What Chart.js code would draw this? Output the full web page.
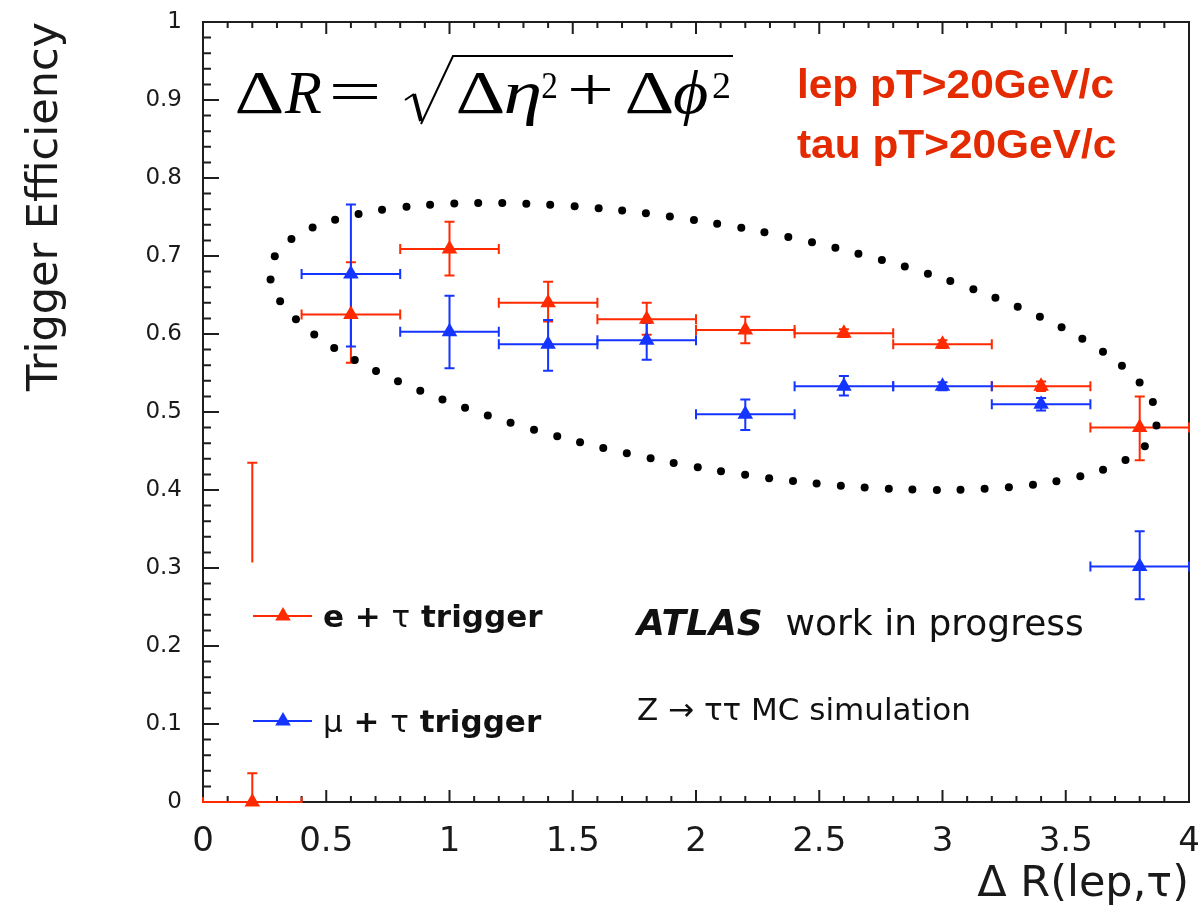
<!DOCTYPE html>
<html>
<head>
<meta charset="utf-8">
<title>Trigger efficiency vs dR</title>
<script src="https://cdn.jsdelivr.net/npm/chart.js@4.4.1/dist/chart.umd.min.js"></script>
<style>
  html, body { margin: 0; padding: 0; background: #fff; }
  canvas { display: block; }
</style>
</head>
<body>
<canvas id="effChart" width="1201" height="913"></canvas>
<script>
// dR(lep,tau) bins: centre and half width
const binCenters = [0.2, 0.6, 1.0, 1.4, 1.8, 2.2, 2.6, 3.0, 3.4, 3.8];
const binHalfWidth = 0.2;

// e + tau trigger
const eTauEff     = [0.000, 0.625, 0.709, 0.640, 0.619, 0.605, 0.601, 0.587, 0.533, 0.480];
const eTauErrUp   = [0.037, 0.067, 0.035, 0.027, 0.021, 0.017, 0.005, 0.005, 0.006, 0.040];
const eTauErrDown = [0.000, 0.062, 0.034, 0.024, 0.020, 0.017, 0.005, 0.005, 0.006, 0.042];
// lone upper error segment left over in the first e + tau bin
const eTauStrayBar = [0.2, 0.307, 0.435]; // x, low, high

// mu + tau trigger (first bin empty)
const muTauBins    = [0.6, 1.0, 1.4, 1.8, 2.2, 2.6, 3.0, 3.4, 3.8];
const muTauEff     = [0.677, 0.603, 0.587, 0.592, 0.497, 0.533, 0.533, 0.510, 0.302];
const muTauErrUp   = [0.089, 0.046, 0.031, 0.022, 0.019, 0.013, 0.005, 0.008, 0.045];
const muTauErrDown = [0.093, 0.047, 0.034, 0.025, 0.020, 0.012, 0.005, 0.008, 0.042];

const xTicks = [0, 0.5, 1, 1.5, 2, 2.5, 3, 3.5, 4];
const yTicks = [0, 0.1, 0.2, 0.3, 0.4, 0.5, 0.6, 0.7, 0.8, 0.9, 1];

// dotted ring around the plateau, in axis units: centre, two conjugate half axes
const ringCenter = [2.071, 0.584];
const ringAxisA = [1.797, -0.1012];
const ringAxisB = [-0.0864, -0.1536];

const RED = '#ff2a00';
const BLUE = '#1434ff';
const SANS = '"DejaVu Sans", sans-serif';
const SERIF = '"Liberation Serif", "DejaVu Serif", serif';

function fmtTick(v) {
  return String(Math.round(v * 10) / 10);
}

function drawFrame(chart) {
  const { ctx, chartArea: a, scales: { x, y } } = chart;
  ctx.save();
  ctx.strokeStyle = '#1e1e1e';
  ctx.lineWidth = 2;
  ctx.strokeRect(a.left, a.top, a.right - a.left, a.bottom - a.top);
  ctx.beginPath();
  // left axis ticks: major every 0.1, minor every 0.02
  for (let i = 0; i <= 50; i++) {
    const py = y.getPixelForValue(i * 0.02);
    const len = i % 5 === 0 ? 16 : 8;
    ctx.moveTo(a.left, py);
    ctx.lineTo(a.left + len, py);
  }
  // bottom and top ticks: major every 0.5, minor every 0.1
  for (let i = 0; i <= 40; i++) {
    const px = x.getPixelForValue(i * 0.1);
    const len = i % 5 === 0 ? 12 : 6;
    ctx.moveTo(px, a.bottom);
    ctx.lineTo(px, a.bottom - len);
    ctx.moveTo(px, a.top);
    ctx.lineTo(px, a.top + len);
  }
  ctx.stroke();
  ctx.restore();
}

function errorBar(ctx, x, y, cx, cy, hw, up, down, color, cap) {
  const px0 = x.getPixelForValue(cx - hw);
  const px1 = x.getPixelForValue(cx + hw);
  const pc = x.getPixelForValue(cx);
  const py = y.getPixelForValue(cy);
  const pTop = y.getPixelForValue(cy + up);
  const pBot = y.getPixelForValue(cy - down);
  ctx.strokeStyle = color;
  ctx.beginPath();
  ctx.moveTo(px0, py); ctx.lineTo(px1, py);
  ctx.moveTo(px0, py - cap); ctx.lineTo(px0, py + cap);
  ctx.moveTo(px1, py - cap); ctx.lineTo(px1, py + cap);
  if (up > 0) {
    ctx.moveTo(pc, py); ctx.lineTo(pc, pTop);
    ctx.moveTo(pc - cap, pTop); ctx.lineTo(pc + cap, pTop);
  }
  if (down > 0) {
    ctx.moveTo(pc, py); ctx.lineTo(pc, pBot);
    ctx.moveTo(pc - cap, pBot); ctx.lineTo(pc + cap, pBot);
  }
  ctx.stroke();
}

function drawErrors(chart) {
  const { ctx, chartArea: a, scales: { x, y } } = chart;
  ctx.save();
  ctx.beginPath();
  ctx.rect(a.left - 1, a.top - 1, a.right - a.left + 2, a.bottom - a.top + 2);
  ctx.clip();
  ctx.lineWidth = 2;
  binCenters.forEach((c, i) => {
    errorBar(ctx, x, y, c, eTauEff[i], binHalfWidth, eTauErrUp[i], eTauErrDown[i], RED, 5);
  });
  muTauBins.forEach((c, i) => {
    errorBar(ctx, x, y, c, muTauEff[i], binHalfWidth, muTauErrUp[i], muTauErrDown[i], BLUE, 5);
  });
  const sx = x.getPixelForValue(eTauStrayBar[0]);
  const sLo = y.getPixelForValue(eTauStrayBar[1]);
  const sHi = y.getPixelForValue(eTauStrayBar[2]);
  ctx.strokeStyle = RED;
  ctx.beginPath();
  ctx.moveTo(sx, sLo); ctx.lineTo(sx, sHi);
  ctx.moveTo(sx - 5, sHi); ctx.lineTo(sx + 5, sHi);
  ctx.stroke();
  ctx.restore();
}

function drawRing(chart) {
  const { ctx, scales: { x, y } } = chart;
  const pts = [];
  const steps = 3000;
  for (let i = 0; i <= steps; i++) {
    const t = Math.PI + (i / steps) * Math.PI * 2;
    const vx = ringCenter[0] + ringAxisA[0] * Math.cos(t) + ringAxisB[0] * Math.sin(t);
    const vy = ringCenter[1] + ringAxisA[1] * Math.cos(t) + ringAxisB[1] * Math.sin(t);
    pts.push([x.getPixelForValue(vx), y.getPixelForValue(vy)]);
  }
  let total = 0;
  for (let i = 1; i < pts.length; i++) {
    total += Math.hypot(pts[i][0] - pts[i - 1][0], pts[i][1] - pts[i - 1][1]);
  }
  const n = Math.round(total / 24);
  const gap = total / n;
  ctx.save();
  ctx.fillStyle = '#000';
  let run = gap / 2;
  let placed = 0;
  for (let i = 1; i < pts.length && placed < n; i++) {
    run += Math.hypot(pts[i][0] - pts[i - 1][0], pts[i][1] - pts[i - 1][1]);
    if (run >= gap) {
      run -= gap;
      placed++;
      ctx.beginPath();
      ctx.arc(pts[i][0], pts[i][1], 4, 0, Math.PI * 2);
      ctx.fill();
    }
  }
  ctx.restore();
}

function triangle(ctx, cx, cy, r, color) {
  ctx.fillStyle = color;
  ctx.beginPath();
  ctx.moveTo(cx, cy - r);
  ctx.lineTo(cx + r * 0.866, cy + r * 0.5);
  ctx.lineTo(cx - r * 0.866, cy + r * 0.5);
  ctx.closePath();
  ctx.fill();
}

function textRuns(ctx, runs, x, y) {
  runs.forEach(([txt, font]) => {
    ctx.font = font;
    ctx.fillText(txt, x, y);
    x += ctx.measureText(txt).width;
  });
}

// draw a glyph so that its ink spans x0..x1
function fitGlyph(ctx, txt, font, x0, x1, base) {
  ctx.font = font;
  const m = ctx.measureText(txt);
  const ink = m.actualBoundingBoxLeft + m.actualBoundingBoxRight;
  const sx = (x1 - x0) / ink;
  ctx.save();
  ctx.translate(x0 + m.actualBoundingBoxLeft * sx, base);
  ctx.scale(sx, 1);
  ctx.fillText(txt, 0, 0);
  ctx.restore();
}

function drawFormula(ctx) {
  const base = 113;
  const big = '62px ' + SERIF;
  const bigIt = 'italic 62px ' + SERIF;
  const sup = '38px ' + SERIF;
  ctx.save();
  ctx.fillStyle = '#000';
  ctx.textBaseline = 'alphabetic';
  fitGlyph(ctx, '\u0394', big, 237, 282, base);
  fitGlyph(ctx, 'R', bigIt, 284, 321, base);
  fitGlyph(ctx, '=', big, 333, 377, base - 1);
  fitGlyph(ctx, '\u0394', big, 458, 503, base);
  fitGlyph(ctx, '\u03b7', bigIt, 506, 540, base);
  fitGlyph(ctx, '2', sup, 542, 556, 98);
  fitGlyph(ctx, '+', big, 571, 610, base - 3);
  fitGlyph(ctx, '\u0394', big, 627, 672, base);
  fitGlyph(ctx, '\u03d5', bigIt, 674, 707, base);
  fitGlyph(ctx, '2', sup, 713, 729, 98);
  // radical sign and overbar
  ctx.strokeStyle = '#000';
  ctx.lineWidth = 2;
  ctx.beginPath();
  ctx.moveTo(405, 100);
  ctx.lineTo(414, 94);
  ctx.stroke();
  ctx.lineWidth = 4;
  ctx.beginPath();
  ctx.moveTo(414, 94);
  ctx.lineTo(421, 121);
  ctx.stroke();
  ctx.lineWidth = 2;
  ctx.beginPath();
  ctx.moveTo(421, 124);
  ctx.lineTo(453, 56);
  ctx.lineTo(733, 56);
  ctx.stroke();
  ctx.restore();
}

function drawNotes(chart) {
  const { ctx } = chart;
  ctx.save();
  ctx.textBaseline = 'alphabetic';
  ctx.textAlign = 'left';

  drawFormula(ctx);

  ctx.fillStyle = '#e42a00';
  ctx.font = 'bold 40px "Liberation Sans", Arial, sans-serif';
  [['lep pT>20GeV/c', 98], ['tau pT>20GeV/c', 158]].forEach(([t, ty]) => {
    ctx.save();
    ctx.translate(797, ty);
    ctx.scale(1.06, 1);
    ctx.fillText(t, 0, 0);
    ctx.restore();
  });

  // legend
  const legend = [[RED, 616], [BLUE, 721]];
  legend.forEach(([col, ly], i) => {
    ctx.strokeStyle = col;
    ctx.lineWidth = 2;
    ctx.beginPath();
    ctx.moveTo(253, ly);
    ctx.lineTo(312, ly);
    ctx.stroke();
    triangle(ctx, 283, ly, 9, col);
    ctx.fillStyle = '#111';
    const runs = i === 0
      ? [['e + ', 'bold 31px ' + SANS], ['\u03c4', '31px ' + SANS], [' trigger', 'bold 31px ' + SANS]]
      : [['\u03bc', '31px ' + SANS], [' + ', 'bold 31px ' + SANS], ['\u03c4', '31px ' + SANS], [' trigger', 'bold 31px ' + SANS]];
    textRuns(ctx, runs, 323, ly + 11);
  });

  ctx.fillStyle = '#111';
  textRuns(ctx, [['ATLAS', 'italic bold 36px ' + SANS], ['  work in progress', '36px ' + SANS]], 637, 635);
  ctx.font = '31px ' + SANS;
  ctx.fillText('Z \u2192 \u03c4\u03c4 MC simulation', 637, 720);
  ctx.restore();
}

const effPlugin = {
  id: 'effDecor',
  beforeDatasetsDraw(chart) {
    drawFrame(chart);
    drawErrors(chart);
  },
  afterDatasetsDraw(chart) {
    drawRing(chart);
    drawNotes(chart);
  }
};

const markerStyle = {
  pointStyle: 'triangle',
  pointRadius: 9,
  pointHoverRadius: 9,
  borderWidth: 0,
  showLine: false,
  clip: false
};

new Chart(document.getElementById('effChart'), {
  type: 'scatter',
  data: {
    datasets: [
      Object.assign({
        label: 'e + \u03c4 trigger',
        data: binCenters.map((c, i) => ({ x: c, y: eTauEff[i] })),
        backgroundColor: RED,
        borderColor: RED
      }, markerStyle),
      Object.assign({
        label: '\u03bc + \u03c4 trigger',
        data: muTauBins.map((c, i) => ({ x: c, y: muTauEff[i] })),
        backgroundColor: BLUE,
        borderColor: BLUE
      }, markerStyle)
    ]
  },
  options: {
    responsive: false,
    animation: false,
    events: [],
    layout: { padding: { top: 22, right: 12, bottom: 0, left: 0 } },
    plugins: {
      legend: { display: false },
      tooltip: { enabled: false }
    },
    scales: {
      x: {
        type: 'linear',
        min: 0,
        max: 4,
        grid: { display: false, drawTicks: false },
        border: { display: false },
        afterBuildTicks: (s) => { s.ticks = xTicks.map(v => ({ value: v })); },
        ticks: {
          color: '#1a1a1a',
          padding: 20,
          maxRotation: 0,
          autoSkip: false,
          font: { family: SANS, size: 34 },
          callback: fmtTick
        },
        title: {
          display: true,
          text: '\u0394 R(lep,\u03c4)',
          align: 'end',
          color: '#1a1a1a',
          font: { family: SANS, size: 43 },
          padding: { top: 0, bottom: 2 }
        },
        afterFit: (s) => {
          s.height = 111;
          s.paddingLeft = 0;
          s.paddingRight = 0;
        }
      },
      y: {
        type: 'linear',
        min: 0,
        max: 1,
        grid: { display: false, drawTicks: false },
        border: { display: false },
        afterBuildTicks: (s) => { s.ticks = yTicks.map(v => ({ value: v })); },
        ticks: {
          color: '#1a1a1a',
          padding: 21,
          autoSkip: false,
          font: { family: SANS, size: 23 },
          callback: fmtTick
        },
        title: {
          display: true,
          text: 'Trigger Efficiency',
          align: 'end',
          color: '#1a1a1a',
          font: { family: SANS, size: 43 },
          padding: { top: 20, bottom: 0 }
        },
        afterFit: (s) => {
          s.width = 203;
          s.paddingTop = 0;
          s.paddingBottom = 0;
        }
      }
    }
  },
  plugins: [effPlugin]
});
</script>
</body>
</html>
